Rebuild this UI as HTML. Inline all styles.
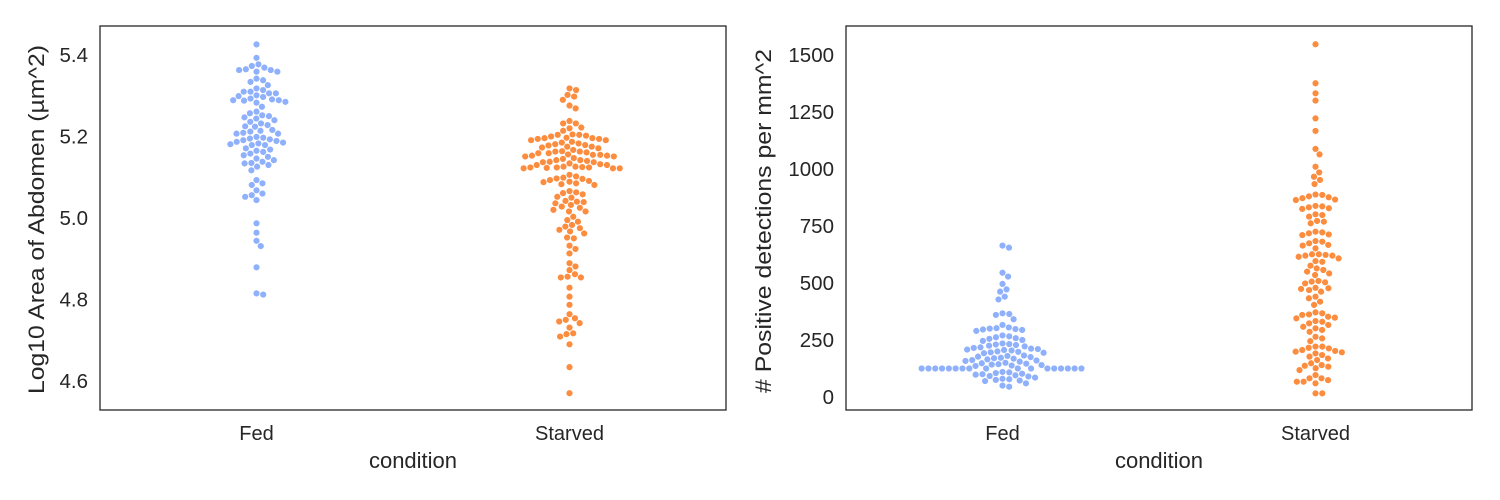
<!DOCTYPE html>
<html><head><meta charset="utf-8">
<style>
html,body{margin:0;padding:0;background:#fff;}
svg{display:block;font-family:"Liberation Sans",Arial,sans-serif;}
</style></head>
<body>
<svg id="chart" width="1500" height="500" viewBox="0 0 1500 500" xmlns="http://www.w3.org/2000/svg"></svg>
<script>
const categories = ["Fed", "Starved"];
const leftTicks = [4.6, 4.8, 5.0, 5.2, 5.4];
const rightTicks = [0, 250, 500, 750, 1000, 1250, 1500];
const fedArea = [5.426,5.393,5.377,5.373,5.369,5.365,5.363,5.363,5.359,5.359,5.342,5.338,5.334,5.326,5.318,5.314,5.310,5.310,5.306,5.306,5.301,5.299,5.297,5.293,5.291,5.289,5.289,5.288,5.285,5.283,5.273,5.261,5.257,5.252,5.250,5.247,5.244,5.240,5.236,5.232,5.228,5.225,5.224,5.216,5.214,5.212,5.209,5.207,5.207,5.199,5.197,5.195,5.193,5.191,5.189,5.187,5.185,5.183,5.181,5.179,5.179,5.171,5.168,5.165,5.162,5.158,5.154,5.150,5.146,5.142,5.138,5.135,5.134,5.130,5.126,5.117,5.093,5.085,5.081,5.068,5.060,5.056,5.052,5.044,4.987,4.964,4.944,4.931,4.879,4.815,4.812];
const starvedArea = [5.318,5.314,5.302,5.298,5.290,5.276,5.269,5.238,5.232,5.232,5.222,5.220,5.214,5.205,5.204,5.204,5.202,5.200,5.197,5.196,5.196,5.194,5.194,5.191,5.191,5.187,5.185,5.183,5.181,5.179,5.178,5.175,5.175,5.173,5.171,5.167,5.164,5.163,5.163,5.161,5.159,5.159,5.156,5.155,5.155,5.153,5.153,5.151,5.151,5.147,5.145,5.142,5.142,5.140,5.138,5.137,5.137,5.134,5.132,5.130,5.130,5.126,5.126,5.125,5.124,5.124,5.124,5.123,5.122,5.122,5.122,5.106,5.102,5.099,5.097,5.096,5.093,5.091,5.089,5.088,5.085,5.083,5.081,5.066,5.063,5.061,5.058,5.052,5.050,5.042,5.040,5.039,5.036,5.032,5.028,5.025,5.020,5.016,5.016,5.003,4.995,4.991,4.983,4.979,4.975,4.971,4.967,4.962,4.952,4.950,4.932,4.924,4.913,4.889,4.881,4.872,4.862,4.856,4.854,4.854,4.829,4.807,4.787,4.764,4.754,4.750,4.746,4.742,4.731,4.717,4.715,4.709,4.690,4.634,4.570];
const fedDetections = [664,655,545,528,496,472,462,440,428,367,364,360,341,316,305,302,300,298,296,294,290,270,266,262,258,255,250,246,235,232,230,228,225,222,218,215,212,210,208,206,204,200,198,196,194,192,182,180,177,175,172,170,168,165,162,160,158,155,150,148,146,144,142,140,138,136,125,125,125,125,125,125,125,125,125,125,125,125,125,125,125,125,125,110,108,105,102,100,98,95,92,90,85,80,78,75,72,70,60,50,45];
const starvedDetections = [1547,1376,1332,1300,1222,1167,1088,1064,1010,985,966,952,934,888,886,880,876,872,866,864,838,836,832,828,825,801,798,791,772,769,762,725,722,718,713,710,684,681,674,667,664,652,626,626,623,620,620,615,608,596,593,576,564,557,550,542,535,509,506,503,498,479,477,474,469,462,440,433,418,404,371,367,362,360,352,348,345,333,330,323,316,308,301,294,286,264,257,245,221,221,216,213,206,202,199,196,191,184,177,169,162,148,140,137,133,126,118,96,82,82,74,67,67,60,16,16];

const NS = "http://www.w3.org/2000/svg";
const svg = document.getElementById("chart");
const COLORS = ["#8fb0fb", "#fc8c3e"];
function mk(tag, attrs, parent) {
  const e = document.createElementNS(NS, tag);
  for (const k in attrs) e.setAttribute(k, attrs[k]);
  (parent || svg).appendChild(e);
  return e;
}
function swarm(vals, yScale, cx, diam) {
  const pts = vals.map(v => ({v: v, y: yScale(v)})).sort((a, b) => b.v - a.v);
  const placed = [];
  pts.forEach(p => {
    const cands = [0];
    placed.forEach(q => {
      const dy = Math.abs(q.y - p.y);
      if (dy < diam) {
        const dx = Math.sqrt(diam * diam - dy * dy);
        cands.push(q.x + dx, q.x - dx);
      }
    });
    cands.sort((a, b) => Math.abs(a) - Math.abs(b));
    for (const c of cands) {
      let ok = true;
      for (const q of placed) {
        const dx = q.x - c, dy = q.y - p.y;
        if (dx * dx + dy * dy < diam * diam - 0.01) { ok = false; break; }
      }
      if (ok) { p.x = c; break; }
    }
    placed.push(p);
  });
  return placed.map(p => ({v: p.v, x: cx + p.x, y: p.y}));
}
function panel(opts) {
  const g = mk("g", {});
  
  
  const {x0, x1, y0, y1} = opts;
  const yScale = v => opts.py0 + (v - opts.v0) * (opts.py1 - opts.py0) / (opts.v1 - opts.v0);
  const xScale = i => x0 + (x1 - x0) * (0.25 + 0.5 * i);
  opts.ticks.forEach(t => {
    const tx = mk("text", {x: x0 - 12, y: yScale(t) + 7, "text-anchor": "end", "font-size": 20.5, fill: "#262626"}, g);
    tx.textContent = opts.fmt(t);
    
    
  });
  categories.forEach((c, i) => {
    const tx = mk("text", {x: xScale(i), y: 440, "text-anchor": "middle", "font-size": 20, fill: "#262626"}, g);
    tx.textContent = c;
    
    
  });
  const xt = mk("text", {x: (x0 + x1) / 2, y: 468, "text-anchor": "middle", "font-size": 22, fill: "#262626"}, g);
  xt.textContent = "condition";
  
  
  const yt = mk("text", {x: 0, y: 0, "text-anchor": "middle", "font-size": 22, fill: "#262626",
    textLength: opts.titleLen, lengthAdjust: "spacingAndGlyphs",
    transform: `translate(${opts.ytx},${opts.tcy}) rotate(-90)`}, g);
  yt.textContent = opts.ytitle;
  
  
  opts.series.forEach((vals, i) => {
    const sg = mk("g", {fill: COLORS[i], stroke: "#ffffff", "stroke-width": 0.6}, g);
    
    
    swarm(vals, yScale, xScale(i), 6.8).forEach(p => {
      const c = mk("circle", {cx: p.x.toFixed(2), cy: p.y.toFixed(2), r: 3.4}, sg);
      
      
    });
  });
  const fr = mk("rect", {x: x0, y: y0, width: x1 - x0, height: y1 - y0, fill: "none", stroke: "#262626", "stroke-width": 1.3}, g);
  
  
}
panel({name: "left-panel", x0: 100, x1: 726, y0: 26, y1: 410, v0: 5.4, v1: 4.6, py0: 55, py1: 381,
  ticks: leftTicks, fmt: t => t.toFixed(1), ytx: 44, tcy: 219.5, titleLen: 349, ytitle: "Log10 Area of Abdomen (µm^2)",
  series: [fedArea, starvedArea]});
panel({name: "right-panel", x0: 846, x1: 1472, y0: 26, y1: 410, v0: 0, v1: 1500, py0: 397, py1: 55,
  ticks: rightTicks, fmt: t => String(t), ytx: 771, tcy: 221, titleLen: 344, ytitle: "# Positive detections per mm^2",
  series: [fedDetections, starvedDetections]});
</script>
</body></html>
